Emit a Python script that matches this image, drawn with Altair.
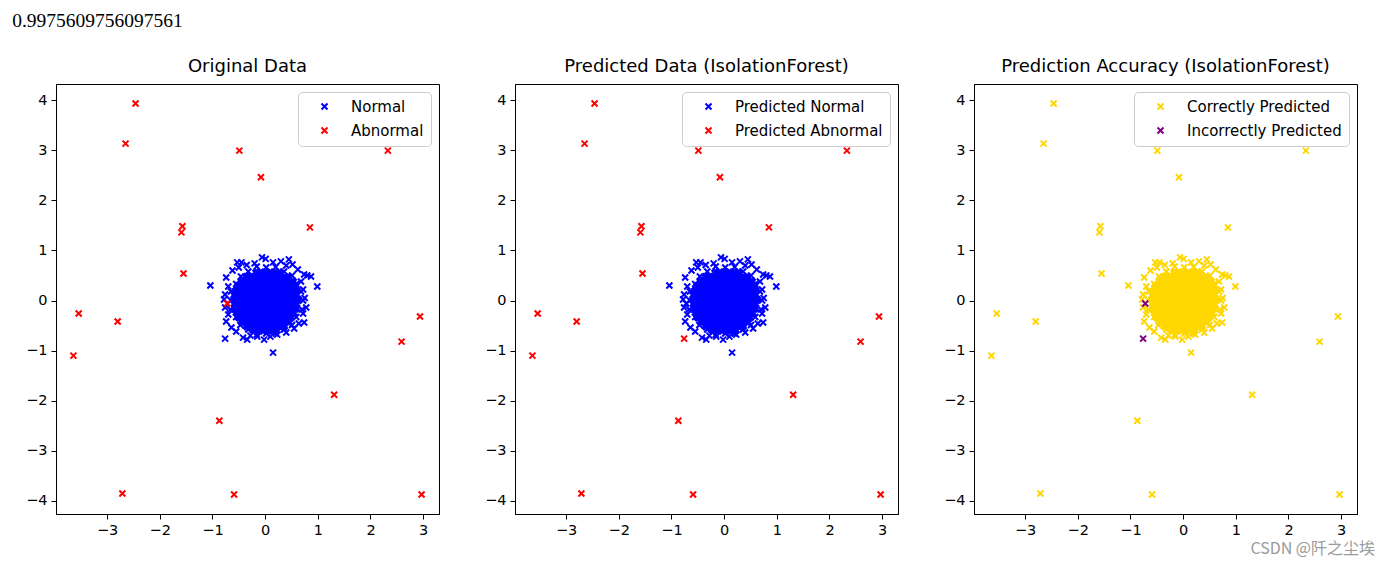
import altair as alt
import pandas as pd

accuracy_text = "0.9975609756097561"
watermark = "CSDN @阡之尘埃"
titles = ["Original Data", "Predicted Data (IsolationForest)", "Prediction Accuracy (IsolationForest)"]
legend_labels = [["Normal", "Abnormal"],
                 ["Predicted Normal", "Predicted Abnormal"],
                 ["Correctly Predicted", "Incorrectly Predicted"]]
palette = [["#0000ff", "#ff0000"], ["#0000ff", "#ff0000"], ["#ffd700", "#800080"]]
x_ticks = [-3, -2, -1, 0, 1, 2, 3]
y_ticks = [-4, -3, -2, -1, 0, 1, 2, 3, 4]

# abnormal (outlier) points
outlier_x = [-2.46, -2.65, -0.49, -0.08, 2.33, -1.57, -1.59, 0.85, -1.55, -0.72,
             -3.54, -2.80, -3.64, 2.94, 2.59, 1.31, -0.87, -2.71, -0.59, 2.97]
outlier_y = [3.93, 3.13, 2.99, 2.46, 2.99, 1.48, 1.36, 1.46, 0.54, -0.06,
             -0.26, -0.42, -1.10, -0.32, -0.82, -1.88, -2.40, -3.85, -3.87, -3.87]
missed_outlier_idx = [9]          # abnormal predicted as normal

# normal points on the edge of the cluster
ring_x = [-0.76, -1.04, 0.99, 0.15, -0.06, 0.01, -0.20, -0.35, -0.45, -0.53, 0.15, 0.30,
          0.45, 0.40, 0.52, 0.62, 0.74, 0.87, 0.80, 0.68, 0.72, 0.75, 0.78, 0.72, 0.74,
          0.64, 0.55, 0.40, 0.23, 0.10, -0.02, -0.15, -0.28, -0.34, -0.42, -0.55, -0.64,
          -0.74, -0.70, -0.76, -0.78, -0.76, -0.70, -0.74, -0.62, -0.50,
          0.72, 0.68, 0.59, 0.51, 0.36, 0.20, 0.02, -0.16, -0.32, -0.46, -0.55, -0.65,
          -0.65, -0.66, -0.55, -0.47, -0.32, -0.16, 0.02, 0.20, 0.36, 0.51, 0.59, 0.70]
ring_y = [-0.76, 0.30, 0.28, -1.04, 0.86, 0.83, 0.74, 0.71, 0.76, 0.76, 0.76, 0.78,
          0.82, 0.70, 0.72, 0.62, 0.52, 0.48, 0.50, 0.38, 0.22, 0.05, -0.14, -0.26, -0.44,
          -0.46, -0.56, -0.64, -0.68, -0.72, -0.78, -0.72, -0.70, -0.78, -0.74, -0.62, -0.54,
          -0.42, -0.28, -0.14, 0.02, 0.12, 0.28, 0.46, 0.60, 0.66,
          0.00, 0.18, 0.33, 0.50, 0.58, 0.67, 0.66, 0.68, 0.58, 0.48, 0.33, 0.18,
          0.00, -0.18, -0.33, -0.49, -0.58, -0.68, -0.66, -0.66, -0.58, -0.49, -0.33, -0.18]
false_alarm_ring_idx = [0]        # normal predicted as abnormal

# dense core of the normal cluster (rows of points)
core_y = [0.56, 0.47, 0.38, 0.29, 0.20, 0.11, 0.02, -0.07, -0.16, -0.25, -0.34, -0.43, -0.52, -0.60]
core_x = [
    [-0.17, -0.08, 0.01, 0.10, 0.19, 0.27],
    [-0.36, -0.27, -0.18, -0.09, 0.00, 0.09, 0.18, 0.27, 0.36, 0.44],
    [-0.45, -0.36, -0.27, -0.18, -0.09, 0.01, 0.10, 0.19, 0.28, 0.37, 0.46, 0.53],
    [-0.51, -0.42, -0.33, -0.24, -0.15, -0.06, 0.03, 0.12, 0.21, 0.30, 0.39, 0.48, 0.57],
    [-0.55, -0.46, -0.37, -0.28, -0.19, -0.10, -0.01, 0.08, 0.17, 0.26, 0.35, 0.44, 0.53, 0.60],
    [-0.58, -0.49, -0.40, -0.31, -0.22, -0.13, -0.04, 0.05, 0.14, 0.23, 0.32, 0.41, 0.50, 0.59],
    [-0.59, -0.50, -0.41, -0.32, -0.23, -0.14, -0.05, 0.04, 0.13, 0.22, 0.31, 0.40, 0.49, 0.58, 0.63],
    [-0.58, -0.49, -0.40, -0.31, -0.22, -0.13, -0.04, 0.05, 0.14, 0.23, 0.32, 0.41, 0.50, 0.59],
    [-0.57, -0.48, -0.39, -0.30, -0.21, -0.12, -0.03, 0.06, 0.15, 0.24, 0.33, 0.42, 0.51, 0.59],
    [-0.54, -0.45, -0.36, -0.27, -0.18, -0.09, 0.00, 0.09, 0.18, 0.27, 0.36, 0.45, 0.54],
    [-0.50, -0.41, -0.32, -0.23, -0.14, -0.05, 0.04, 0.13, 0.22, 0.31, 0.40, 0.49],
    [-0.44, -0.35, -0.26, -0.17, -0.08, 0.01, 0.10, 0.19, 0.28, 0.37, 0.45],
    [-0.35, -0.26, -0.17, -0.08, 0.01, 0.10, 0.19, 0.28, 0.36],
    [-0.22, -0.13, -0.04, 0.05, 0.14, 0.22],
]

X_PATH = "M-1,-1L1,1M-1,1L1,-1"
W, H = 383, 430

# ---- tables ----
core_pts = [(x, y) for y, row in zip(core_y, core_x) for x in row]
ring_pts = list(zip(ring_x, ring_y))
out_pts = list(zip(outlier_x, outlier_y))

all_x = [p[0] for p in core_pts + ring_pts + out_pts]
all_y = [p[1] for p in core_pts + ring_pts + out_pts]
mx = 0.05 * (max(all_x) - min(all_x))
my = 0.05 * (max(all_y) - min(all_y))
x_dom = [min(all_x) - mx, max(all_x) + mx]
y_dom = [min(all_y) - my, max(all_y) + my]


def table(pts, lab):
    return [{"x": p[0], "y": p[1], "lab": lab} for p in pts]


ring_ok = [p for i, p in enumerate(ring_pts) if i not in false_alarm_ring_idx]
ring_bad = [p for i, p in enumerate(ring_pts) if i in false_alarm_ring_idx]
out_ok = [p for i, p in enumerate(out_pts) if i not in missed_outlier_idx]
out_bad = [p for i, p in enumerate(out_pts) if i in missed_outlier_idx]

panels_main = [
    table(ring_pts, legend_labels[0][0]) + table(out_pts, legend_labels[0][1]),
    table(ring_ok + out_bad, legend_labels[1][0]) + table(ring_bad + out_ok, legend_labels[1][1]),
    table(ring_ok + out_ok, legend_labels[2][0]) + table(ring_bad + out_bad, legend_labels[2][1]),
]


def make_panel(i):
    core_df = pd.DataFrame(table(core_pts, legend_labels[i][0]))
    main_df = pd.DataFrame(panels_main[i])
    main_df["k"] = range(len(main_df))
    color = alt.Color(
        "lab:N",
        scale=alt.Scale(domain=legend_labels[i], range=palette[i]),
        legend=alt.Legend(
            title=None, orient="top-right", offset=8, fillColor="white",
            strokeColor="#cccccc", cornerRadius=4, padding=7,
            labelFont="DejaVu Sans", labelFontSize=15, labelColor="black",
            symbolType=X_PATH, symbolSize=36, symbolStrokeWidth=2,
            symbolOffset=12, labelOffset=19, rowPadding=8,
        ),
    )
    xenc = alt.X("x:Q", scale=alt.Scale(domain=x_dom, nice=False, zero=False),
                 axis=alt.Axis(values=x_ticks, title=None, format="d"))
    yenc = alt.Y("y:Q", scale=alt.Scale(domain=y_dom, nice=False, zero=False),
                 axis=alt.Axis(values=y_ticks, title=None, format="d"))
    core = alt.Chart(core_df).mark_point(
        shape=X_PATH, filled=False, strokeWidth=4, size=36, opacity=1
    ).encode(x=xenc, y=yenc, color=color)
    main = alt.Chart(main_df).mark_point(
        shape=X_PATH, filled=False, strokeWidth=2, size=36, opacity=1
    ).encode(x=xenc, y=yenc, color=color, order=alt.Order("k:Q"))
    layers = [core, main]
    if i == 2:
        wm = alt.Chart(pd.DataFrame({"t": [watermark]})).mark_text(
            align="right", baseline="middle", font="Noto Sans CJK SC",
            fontSize=16, color="#9a9a9a"
        ).encode(text="t:N", x=alt.value(W + 18), y=alt.value(H + 35))
        layers.append(wm)
    return alt.layer(*layers).properties(
        width=W, height=H,
        title=alt.TitleParams(titles[i], font="DejaVu Sans", fontSize=18,
                              fontWeight="normal", color="black", offset=8),
    )


chart = alt.hconcat(make_panel(0), make_panel(1), make_panel(2), spacing=44).resolve_scale(
    color="independent"
).properties(
    title=alt.TitleParams(accuracy_text, anchor="start", font="Liberation Serif",
                          fontSize=19.5, fontWeight="normal", color="black",
                          dx=-13, offset=26),
    padding={"left": 4, "top": 3, "right": 0, "bottom": 0},
).configure_view(stroke="black", strokeWidth=1).configure_axis(
    domainColor="black", tickColor="black", labelColor="black",
    labelFont="DejaVu Sans", labelFontSize=14.5, tickSize=5, labelPadding=4,
    grid=False, domainWidth=1, tickWidth=1,
)

chart.save("out.html", embed_options={"renderer": "svg", "actions": False})
